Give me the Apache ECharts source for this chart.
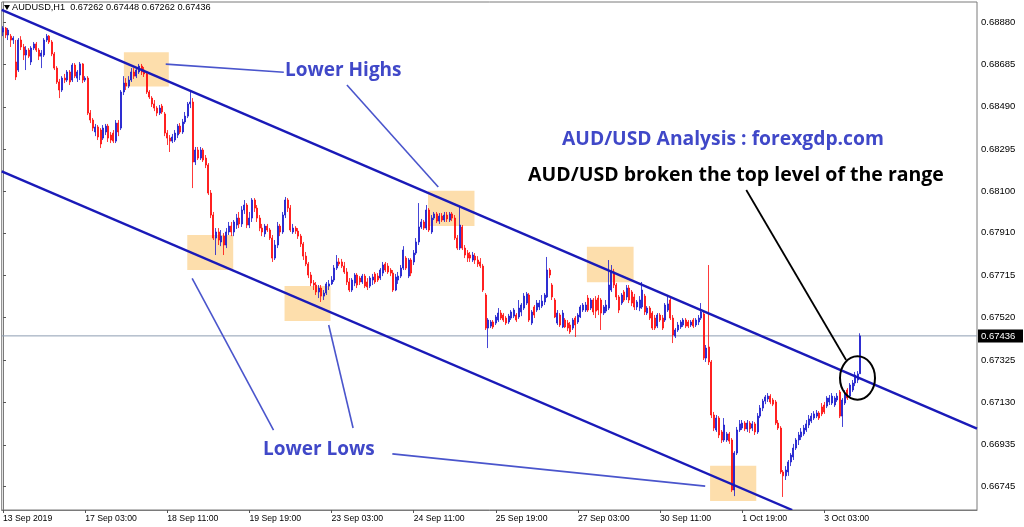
<!DOCTYPE html>
<html>
<head>
<meta charset="utf-8">
<script src="https://cdn.jsdelivr.net/npm/echarts@6/dist/echarts.min.js"></script>
<style>
html,body{margin:0;padding:0;background:#fff;}
#chart{width:1024px;height:527px;}
</style>
</head>
<body>
<div id="chart"></div>
<script>
// ---- DATA ----
const symbolHeader = 'AUDUSD,H1  0.67262 0.67448 0.67262 0.67436';
const lastPrice = 0.67436;
const firstBar = Date.UTC(2019, 8, 13, 19); // 13 Sep 2019 19:00, hourly bars, weekends skipped
const slotCount = 380;                        // bars + empty chart shift on the right
const tickEvery = 32;
const tickLabels = ['13 Sep 2019','17 Sep 03:00','18 Sep 11:00','19 Sep 19:00','23 Sep 03:00','24 Sep 11:00','25 Sep 19:00','27 Sep 03:00','30 Sep 11:00','1 Oct 19:00','3 Oct 03:00'];
const priceTicks = [0.68880,0.68685,0.68490,0.68295,0.68100,0.67910,0.67715,0.67520,0.67325,0.67130,0.66935,0.66745];
const priceMin = 0.66635, priceMax = 0.68972;

// candles: [open, close, low, high]
const candles = [
[0.68834,0.68852,0.68815,0.68861],[0.68852,0.68820,0.68806,0.68857],[0.68820,0.68843,0.68797,0.68852],[0.68815,0.68797,0.68765,0.68825],
[0.68797,0.68806,0.68779,0.68815],[0.68696,0.68627,0.68613,0.68797],[0.68659,0.68797,0.68650,0.68806],[0.68797,0.68765,0.68751,0.68815],
[0.68765,0.68728,0.68705,0.68779],[0.68728,0.68751,0.68659,0.68769],[0.68751,0.68723,0.68714,0.68760],[0.68696,0.68760,0.68682,0.68769],
[0.68760,0.68779,0.68751,0.68788],[0.68779,0.68751,0.68742,0.68788],[0.68751,0.68723,0.68705,0.68760],[0.68723,0.68737,0.68668,0.68751],
[0.68728,0.68797,0.68719,0.68806],[0.68797,0.68815,0.68788,0.68825],[0.68815,0.68788,0.68779,0.68820],[0.68788,0.68733,0.68723,0.68797],
[0.68733,0.68668,0.68659,0.68742],[0.68668,0.68604,0.68595,0.68677],[0.68604,0.68567,0.68530,0.68618],[0.68567,0.68622,0.68558,0.68631],
[0.68622,0.68613,0.68599,0.68641],[0.68613,0.68650,0.68604,0.68659],[0.68650,0.68604,0.68590,0.68659],[0.68613,0.68682,0.68604,0.68691],
[0.68682,0.68631,0.68622,0.68691],[0.68622,0.68650,0.68604,0.68659],[0.68636,0.68687,0.68613,0.68696],[0.68687,0.68613,0.68599,0.68691],
[0.68613,0.68622,0.68604,0.68631],[0.68622,0.68461,0.68452,0.68631],[0.68461,0.68429,0.68415,0.68475],[0.68429,0.68392,0.68378,0.68438],
[0.68374,0.68397,0.68355,0.68411],[0.68397,0.68351,0.68337,0.68406],[0.68383,0.68319,0.68300,0.68392],[0.68346,0.68392,0.68337,0.68406],
[0.68374,0.68401,0.68360,0.68411],[0.68401,0.68346,0.68328,0.68411],[0.68360,0.68337,0.68323,0.68374],[0.68369,0.68332,0.68323,0.68383],
[0.68332,0.68415,0.68323,0.68429],[0.68415,0.68374,0.68355,0.68429],[0.68392,0.68558,0.68383,0.68567],[0.68558,0.68599,0.68544,0.68631],
[0.68599,0.68585,0.68567,0.68622],[0.68585,0.68613,0.68576,0.68631],[0.68613,0.68650,0.68604,0.68668],[0.68650,0.68631,0.68618,0.68668],
[0.68631,0.68659,0.68622,0.68673],[0.68650,0.68677,0.68641,0.68687],[0.68677,0.68650,0.68636,0.68687],[0.68659,0.68641,0.68627,0.68673],
[0.68641,0.68558,0.68549,0.68650],[0.68558,0.68535,0.68526,0.68567],[0.68530,0.68503,0.68489,0.68539],[0.68503,0.68484,0.68470,0.68521],
[0.68484,0.68461,0.68447,0.68493],[0.68461,0.68484,0.68452,0.68498],[0.68493,0.68466,0.68457,0.68503],[0.68457,0.68369,0.68355,0.68466],
[0.68369,0.68346,0.68314,0.68383],[0.68346,0.68332,0.68282,0.68360],[0.68332,0.68351,0.68323,0.68365],[0.68337,0.68369,0.68328,0.68383],
[0.68360,0.68401,0.68346,0.68411],[0.68401,0.68374,0.68365,0.68415],[0.68374,0.68420,0.68365,0.68434],[0.68420,0.68447,0.68411,0.68466],
[0.68447,0.68503,0.68438,0.68512],[0.68503,0.68512,0.68484,0.68562],[0.68512,0.68236,0.68116,0.68530],[0.68236,0.68291,0.68222,0.68305],
[0.68291,0.68254,0.68245,0.68305],[0.68254,0.68291,0.68245,0.68305],[0.68291,0.68245,0.68236,0.68300],[0.68254,0.68222,0.68208,0.68268],
[0.68222,0.68093,0.68084,0.68231],[0.68093,0.67992,0.67978,0.68107],[0.67992,0.67886,0.67877,0.68006],[0.67886,0.67914,0.67808,0.67932],
[0.67914,0.67877,0.67854,0.67932],[0.67868,0.67895,0.67849,0.67923],[0.67895,0.67854,0.67808,0.67909],[0.67854,0.67914,0.67840,0.67932],
[0.67914,0.67941,0.67900,0.67960],[0.67941,0.67914,0.67895,0.67960],[0.67914,0.67960,0.67895,0.67969],[0.67946,0.67978,0.67928,0.67997],
[0.67978,0.67951,0.67932,0.68006],[0.67951,0.68015,0.67937,0.68033],[0.68015,0.68038,0.67997,0.68061],[0.68038,0.67946,0.67932,0.68047],
[0.67946,0.67978,0.67932,0.68006],[0.67978,0.68061,0.67960,0.68070],[0.68061,0.68024,0.68006,0.68070],[0.68024,0.67978,0.67960,0.68038],
[0.67978,0.67932,0.67918,0.67992],[0.67932,0.67914,0.67895,0.67951],[0.67905,0.67941,0.67891,0.67951],[0.67941,0.67923,0.67914,0.67951],
[0.67923,0.67886,0.67877,0.67932],[0.67886,0.67794,0.67776,0.67900],[0.67794,0.67854,0.67785,0.67877],[0.67854,0.67941,0.67840,0.67960],
[0.67941,0.67914,0.67895,0.67951],[0.67914,0.67992,0.67905,0.68006],[0.67992,0.68061,0.67978,0.68075],[0.68061,0.68024,0.68006,0.68070],
[0.68024,0.67923,0.67914,0.68038],[0.67914,0.67932,0.67905,0.67951],[0.67932,0.67918,0.67905,0.67941],[0.67918,0.67895,0.67882,0.67932],
[0.67895,0.67859,0.67845,0.67905],[0.67859,0.67803,0.67785,0.67868],[0.67803,0.67767,0.67757,0.67822],[0.67767,0.67716,0.67702,0.67776],
[0.67716,0.67679,0.67665,0.67730],[0.67679,0.67670,0.67647,0.67693],[0.67670,0.67638,0.67624,0.67684],[0.67638,0.67656,0.67610,0.67670],
[0.67656,0.67619,0.67592,0.67670],[0.67619,0.67633,0.67601,0.67647],[0.67633,0.67675,0.67624,0.67684],[0.67665,0.67675,0.67647,0.67693],
[0.67675,0.67693,0.67670,0.67711],[0.67693,0.67748,0.67684,0.67762],[0.67748,0.67776,0.67739,0.67808],[0.67776,0.67767,0.67757,0.67794],
[0.67776,0.67757,0.67748,0.67790],[0.67757,0.67730,0.67721,0.67776],[0.67730,0.67684,0.67670,0.67748],[0.67684,0.67647,0.67638,0.67702],
[0.67647,0.67693,0.67638,0.67702],[0.67679,0.67716,0.67665,0.67725],[0.67716,0.67670,0.67656,0.67725],[0.67702,0.67684,0.67670,0.67711],
[0.67684,0.67711,0.67675,0.67721],[0.67711,0.67665,0.67656,0.67721],[0.67684,0.67661,0.67647,0.67702],[0.67665,0.67702,0.67656,0.67711],
[0.67693,0.67707,0.67670,0.67721],[0.67721,0.67684,0.67675,0.67730],[0.67711,0.67693,0.67684,0.67725],[0.67702,0.67739,0.67693,0.67748],
[0.67725,0.67762,0.67711,0.67776],[0.67767,0.67739,0.67730,0.67776],[0.67757,0.67730,0.67721,0.67771],[0.67739,0.67725,0.67711,0.67748],
[0.67725,0.67647,0.67638,0.67739],[0.67647,0.67707,0.67642,0.67721],[0.67693,0.67711,0.67675,0.67730],[0.67711,0.67748,0.67702,0.67762],
[0.67748,0.67831,0.67739,0.67849],[0.67794,0.67748,0.67739,0.67803],[0.67711,0.67785,0.67702,0.67794],[0.67785,0.67725,0.67711,0.67794],
[0.67776,0.67817,0.67762,0.67831],[0.67817,0.67868,0.67808,0.67886],[0.67868,0.67937,0.67854,0.68047],[0.67937,0.67960,0.67928,0.67974],
[0.67960,0.67932,0.67923,0.67969],[0.67932,0.68015,0.67923,0.68038],[0.68015,0.67923,0.67914,0.68024],[0.67914,0.67978,0.67905,0.67992],
[0.67978,0.67997,0.67969,0.68006],[0.67997,0.67964,0.67955,0.68006],[0.67964,0.67987,0.67951,0.68001],[0.67987,0.67969,0.67960,0.68001],
[0.67969,0.67992,0.67960,0.68006],[0.67992,0.67974,0.67960,0.68006],[0.67969,0.67997,0.67960,0.68006],[0.67997,0.67978,0.67964,0.68006],
[0.67978,0.67886,0.67877,0.67992],[0.67886,0.67840,0.67831,0.67900],[0.67840,0.67946,0.67831,0.68029],[0.67937,0.67840,0.67831,0.67946],
[0.67840,0.67808,0.67794,0.67854],[0.67817,0.67794,0.67776,0.67831],[0.67808,0.67794,0.67776,0.67822],[0.67785,0.67808,0.67776,0.67822],
[0.67803,0.67785,0.67767,0.67817],[0.67785,0.67767,0.67753,0.67803],[0.67776,0.67757,0.67748,0.67794],[0.67757,0.67647,0.67638,0.67767],
[0.67624,0.67472,0.67463,0.67633],[0.67472,0.67509,0.67380,0.67518],[0.67481,0.67500,0.67472,0.67509],[0.67500,0.67477,0.67468,0.67509],
[0.67495,0.67523,0.67486,0.67532],[0.67509,0.67541,0.67500,0.67564],[0.67541,0.67518,0.67509,0.67555],[0.67532,0.67509,0.67500,0.67541],
[0.67518,0.67495,0.67486,0.67527],[0.67500,0.67527,0.67491,0.67537],[0.67518,0.67546,0.67509,0.67555],[0.67527,0.67555,0.67518,0.67564],
[0.67532,0.67509,0.67500,0.67541],[0.67523,0.67564,0.67514,0.67601],[0.67546,0.67578,0.67527,0.67587],[0.67564,0.67619,0.67555,0.67633],
[0.67587,0.67629,0.67578,0.67638],[0.67624,0.67509,0.67500,0.67633],[0.67495,0.67546,0.67486,0.67555],[0.67569,0.67532,0.67518,0.67578],
[0.67555,0.67587,0.67546,0.67601],[0.67569,0.67587,0.67555,0.67601],[0.67573,0.67596,0.67564,0.67624],[0.67592,0.67624,0.67578,0.67633],
[0.67615,0.67739,0.67610,0.67799],[0.67739,0.67716,0.67702,0.67748],[0.67670,0.67615,0.67601,0.67679],[0.67601,0.67523,0.67518,0.67610],
[0.67495,0.67541,0.67486,0.67555],[0.67532,0.67486,0.67477,0.67541],[0.67477,0.67541,0.67472,0.67555],[0.67509,0.67477,0.67472,0.67518],
[0.67495,0.67472,0.67458,0.67509],[0.67486,0.67454,0.67445,0.67500],[0.67472,0.67509,0.67463,0.67518],[0.67518,0.67486,0.67431,0.67527],
[0.67500,0.67532,0.67491,0.67541],[0.67523,0.67569,0.67518,0.67578],[0.67555,0.67578,0.67546,0.67587],[0.67555,0.67578,0.67546,0.67592],
[0.67610,0.67555,0.67546,0.67624],[0.67564,0.67601,0.67555,0.67610],[0.67601,0.67546,0.67532,0.67610],[0.67601,0.67550,0.67518,0.67619],
[0.67610,0.67555,0.67532,0.67624],[0.67601,0.67541,0.67463,0.67610],[0.67541,0.67569,0.67532,0.67578],[0.67550,0.67578,0.67541,0.67601],
[0.67564,0.67670,0.67555,0.67785],[0.67647,0.67730,0.67638,0.67762],[0.67730,0.67670,0.67656,0.67744],[0.67670,0.67615,0.67601,0.67679],
[0.67615,0.67555,0.67541,0.67624],[0.67587,0.67624,0.67578,0.67633],[0.67638,0.67601,0.67592,0.67647],[0.67615,0.67656,0.67601,0.67670],
[0.67656,0.67601,0.67587,0.67670],[0.67638,0.67587,0.67573,0.67647],[0.67615,0.67569,0.67555,0.67629],[0.67569,0.67592,0.67555,0.67601],
[0.67564,0.67601,0.67550,0.67619],[0.67569,0.67647,0.67560,0.67684],[0.67619,0.67546,0.67532,0.67629],[0.67541,0.67564,0.67532,0.67573],
[0.67564,0.67518,0.67509,0.67573],[0.67541,0.67472,0.67463,0.67550],[0.67518,0.67472,0.67463,0.67532],[0.67481,0.67532,0.67472,0.67541],
[0.67532,0.67509,0.67500,0.67541],[0.67518,0.67472,0.67463,0.67532],[0.67509,0.67578,0.67500,0.67587],[0.67555,0.67583,0.67546,0.67615],
[0.67601,0.67518,0.67509,0.67610],[0.67518,0.67440,0.67403,0.67532],[0.67435,0.67463,0.67426,0.67472],[0.67463,0.67486,0.67454,0.67500],
[0.67477,0.67500,0.67468,0.67509],[0.67486,0.67509,0.67477,0.67518],[0.67509,0.67481,0.67472,0.67518],[0.67500,0.67481,0.67472,0.67509],
[0.67486,0.67500,0.67477,0.67509],[0.67509,0.67481,0.67472,0.67518],[0.67486,0.67509,0.67477,0.67518],[0.67500,0.67518,0.67486,0.67532],
[0.67518,0.67546,0.67509,0.67587],[0.67537,0.67334,0.67325,0.67546],[0.67334,0.67380,0.67316,0.67394],[0.67385,0.67316,0.67302,0.67762],
[0.67316,0.67072,0.67058,0.67325],[0.67072,0.67012,0.66998,0.67086],[0.67003,0.67058,0.66994,0.67072],[0.67058,0.66980,0.66966,0.67067],
[0.66994,0.66957,0.66943,0.67003],[0.66957,0.67026,0.66948,0.67058],[0.66957,0.66985,0.66948,0.66994],[0.66985,0.66952,0.66939,0.66994],
[0.66957,0.66727,0.66718,0.66966],[0.66727,0.66897,0.66699,0.66906],[0.66897,0.67003,0.66888,0.67017],[0.67003,0.67031,0.66994,0.67049],
[0.67012,0.67035,0.67003,0.67049],[0.67035,0.67008,0.66998,0.67044],[0.67008,0.67035,0.66994,0.67049],[0.67035,0.67008,0.66989,0.67044],
[0.67012,0.67031,0.66998,0.67044],[0.67031,0.66994,0.66980,0.67040],[0.66994,0.67067,0.66985,0.67081],[0.67067,0.67104,0.67058,0.67118],
[0.67104,0.67136,0.67090,0.67146],[0.67136,0.67155,0.67122,0.67164],[0.67146,0.67159,0.67132,0.67173],[0.67159,0.67132,0.67122,0.67168],
[0.67141,0.67122,0.67113,0.67150],[0.67132,0.67035,0.67026,0.67141],[0.67035,0.67012,0.67003,0.67049],[0.67012,0.66810,0.66801,0.67021],
[0.66810,0.66792,0.66695,0.66819],[0.66792,0.66819,0.66773,0.66837],[0.66810,0.66856,0.66792,0.66865],[0.66856,0.66888,0.66837,0.66897],
[0.66879,0.66920,0.66865,0.66939],[0.66920,0.66957,0.66911,0.66966],[0.66957,0.66980,0.66934,0.66994],[0.66971,0.66994,0.66957,0.67012],
[0.66985,0.67012,0.66976,0.67026],[0.67003,0.67031,0.66994,0.67049],[0.67026,0.67054,0.67012,0.67072],[0.67044,0.67067,0.67035,0.67081],
[0.67058,0.67077,0.67049,0.67090],[0.67067,0.67081,0.67058,0.67095],[0.67081,0.67058,0.67049,0.67090],[0.67109,0.67077,0.67067,0.67127],
[0.67118,0.67086,0.67077,0.67132],[0.67113,0.67150,0.67104,0.67159],[0.67132,0.67150,0.67118,0.67164],[0.67127,0.67159,0.67118,0.67173],
[0.67118,0.67150,0.67109,0.67159],[0.67141,0.67159,0.67132,0.67173],[0.67178,0.67067,0.67058,0.67187],[0.67067,0.67141,0.67017,0.67150],
[0.67127,0.67168,0.67118,0.67187],[0.67187,0.67150,0.67141,0.67196],[0.67159,0.67210,0.67150,0.67219],[0.67187,0.67219,0.67178,0.67233],
[0.67219,0.67256,0.67205,0.67270],[0.67233,0.67261,0.67219,0.67274],[0.67262,0.67436,0.67262,0.67448]
];

// annotation boxes: [barFrom, barTo, priceA, priceB]
const boxes = [
[47.1,64.6,0.68741,0.68583],
[71.8,89.7,0.67900,0.67739],
[109.7,127.6,0.67666,0.67505],
[165.6,183.7,0.68104,0.67942],
[227.5,245.7,0.67846,0.67683],
[275.5,293.5,0.66839,0.66676]
];
// channel lines: [barA, priceA, barB, priceB]
const channelLines = [
[-0.5,0.68936,379.5,0.67009],
[-0.5,0.68193,307.5,0.66635]
];
// pointer lines from labels
const pointerLines = [
[63.4,0.68686,109.4,0.68649],
[134.0,0.68590,169.6,0.68121],
[73.7,0.67701,105.4,0.67003],
[126.9,0.67486,136.4,0.67012],
[151.7,0.66893,273.6,0.66745]
];
const breakoutLine = [[289.6,0.68107,328.5,0.67325]];

// ---- CATEGORIES (hourly, weekends skipped) ----
const MON = ['Jan','Feb','Mar','Apr','May','Jun','Jul','Aug','Sep','Oct','Nov','Dec'];
const categories = [];
let t = firstBar;
while (categories.length < slotCount) {
  const d = new Date(t);
  const wd = d.getUTCDay();
  if (wd !== 0 && wd !== 6) {
    categories.push(d.getUTCDate() + ' ' + MON[d.getUTCMonth()] + ' ' + String(d.getUTCHours()).padStart(2,'0') + ':00');
  }
  t += 3600000;
}

const chart = echarts.init(document.getElementById('chart'), null, {renderer: 'canvas'});

function segRender(color, width) {
  return function (params, api) {
    const a = api.coord([api.value(0), api.value(1)]);
    const b = api.coord([api.value(2), api.value(3)]);
    return {type: 'line', shape: {x1: a[0], y1: a[1], x2: b[0], y2: b[1]},
            style: {stroke: color, lineWidth: width, fill: null}};
  };
}

const AXIS_FONT = 'Liberation Sans';
const labelFont = 'Open Sans';

chart.setOption({
  animation: false,
  backgroundColor: '#ffffff',
  grid: {left: 1, right: 47, top: 2, bottom: 17, show: true, borderColor: '#7a7a7a', borderWidth: 1, backgroundColor: 'transparent'},
  xAxis: [{
    type: 'category',
    data: categories,
    boundaryGap: true,
    axisLine: {show: true, lineStyle: {color: '#7a7a7a'}},
    axisTick: {show: true, alignWithLabel: true, length: 3, lineStyle: {color: '#555'},
      interval: function (idx) { return idx % tickEvery === 0 && idx / tickEvery < tickLabels.length; }},
    axisLabel: {show: true, align: 'left', margin: 4, fontSize: 8.7, fontFamily: AXIS_FONT, color: '#000',
      interval: function (idx) { return idx % tickEvery === 0 && idx / tickEvery < tickLabels.length; },
      formatter: function (v, idx) { return tickLabels[idx / tickEvery] || ''; }},
    splitLine: {show: false}
  }, {
    type: 'value', min: -0.5, max: slotCount - 0.5, show: false
  }],
  yAxis: {
    type: 'value', position: 'right', min: priceMin, max: priceMax, scale: true,
    axisLine: {show: true, lineStyle: {color: '#7a7a7a'}},
    axisTick: {show: true, length: 3, customValues: priceTicks, lineStyle: {color: '#555'}},
    axisLabel: {show: true, margin: 4, fontSize: 9.5, fontFamily: AXIS_FONT, color: '#000',
      customValues: priceTicks, formatter: function (v) { return v.toFixed(5); }},
    splitLine: {show: false}
  },
  series: [
    {
      type: 'custom', name: 'boxes', xAxisIndex: 1, yAxisIndex: 0, z: 1, clip: true,
      data: boxes, encode: {x: [0, 1], y: [2, 3]},
      renderItem: function (params, api) {
        const a = api.coord([api.value(0), api.value(2)]);
        const b = api.coord([api.value(1), api.value(3)]);
        return {type: 'rect', shape: {x: Math.min(a[0], b[0]), y: Math.min(a[1], b[1]),
          width: Math.abs(b[0] - a[0]), height: Math.abs(b[1] - a[1])}, style: {fill: '#fddeac'}};
      }
    },
    {
      type: 'custom', name: 'bidLine', xAxisIndex: 1, yAxisIndex: 0, z: 1, clip: true,
      data: [[-0.5, lastPrice, slotCount - 0.5, lastPrice]], encode: {x: [0, 2], y: [1, 3]},
      renderItem: segRender('#8d9db3', 1)
    },
    {
      type: 'candlestick', name: 'AUDUSD', xAxisIndex: 0, yAxisIndex: 0, z: 2,
      data: candles, barWidth: 1.5,
      itemStyle: {color: '#1616cc', color0: '#ff0808', borderColor: '#1616cc', borderColor0: '#ff0808', borderWidth: 0.8}
    },
    {
      type: 'custom', name: 'channel', xAxisIndex: 1, yAxisIndex: 0, z: 3, clip: true,
      data: channelLines, encode: {x: [0, 2], y: [1, 3]}, renderItem: segRender('#1a1ab8', 2.4)
    },
    {
      type: 'custom', name: 'pointers', xAxisIndex: 1, yAxisIndex: 0, z: 3, clip: true,
      data: pointerLines, encode: {x: [0, 2], y: [1, 3]}, renderItem: segRender('#4a55cc', 1.6)
    },
    {
      type: 'custom', name: 'breakout', xAxisIndex: 1, yAxisIndex: 0, z: 3, clip: true,
      data: breakoutLine, encode: {x: [0, 2], y: [1, 3]}, renderItem: segRender('#000000', 1.8)
    },
    {
      type: 'custom', name: 'bidLabel', xAxisIndex: 1, yAxisIndex: 0, z: 5, clip: false,
      data: [[slotCount - 0.5, lastPrice]], encode: {x: 0, y: 1},
      renderItem: function (params, api) {
        const p = api.coord([api.value(0), api.value(1)]);
        return {type: 'group', children: [
          {type: 'rect', shape: {x: p[0] + 1, y: p[1] - 6.5, width: 45, height: 13}, style: {fill: '#000'}},
          {type: 'text', x: p[0] + 4, y: p[1], style: {text: lastPrice.toFixed(5), fill: '#fff', fontSize: 9.5, fontFamily: AXIS_FONT, verticalAlign: 'middle'}}
        ]};
      }
    }
  ],
  graphic: [
    {type: 'polygon', z: 10, shape: {points: [[4, 5], [10, 5], [7, 10]]}, style: {fill: '#000'}},
    {type: 'text', z: 10, left: 12, top: 3, style: {text: symbolHeader, fontSize: 9.2, fontFamily: AXIS_FONT, fill: '#000'}},
    {type: 'text', z: 10, x: 285, y: 71, style: {text: 'Lower Highs', fontSize: 19, fontWeight: 'bold', fontFamily: labelFont, fill: '#4048c8', verticalAlign: 'middle'}},
    {type: 'text', z: 10, x: 263, y: 450, style: {text: 'Lower Lows', fontSize: 19, fontWeight: 'bold', fontFamily: labelFont, fill: '#4048c8', verticalAlign: 'middle'}},
    {type: 'text', z: 10, x: 562, y: 140, style: {text: 'AUD/USD Analysis : forexgdp.com', fontSize: 19.3, fontWeight: 'bold', fontFamily: labelFont, fill: '#4048c8', verticalAlign: 'middle'}},
    {type: 'text', z: 10, x: 528, y: 175, style: {text: 'AUD/USD broken the top level of the range', fontSize: 19.5, fontWeight: 'bold', fontFamily: labelFont, fill: '#000', verticalAlign: 'middle'}},
    {type: 'ellipse', z: 10, shape: {cx: 857.5, cy: 378, rx: 17.5, ry: 21.7}, style: {fill: 'none', stroke: '#000', lineWidth: 2}}
  ]
});
</script>
</body>
</html>
